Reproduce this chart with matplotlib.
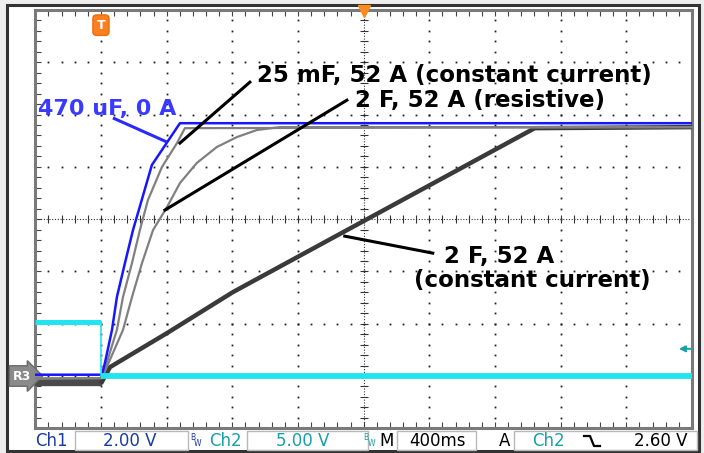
import numpy as np
import matplotlib
matplotlib.use("Agg")
import matplotlib.pyplot as plt
from matplotlib.patches import Rectangle
from matplotlib.lines import Line2D
from matplotlib.transforms import blended_transform_factory

# scope settings: 400 ms/div, Ch1 2 V/div, Ch2 5 V/div, trigger 1 div from left
t_min, t_div = -0.4, 0.4
ch1_min, ch1_div = -2.0, 2.0
ch2_min, ch2_div = -5.0, 5.0
trig_level = 2.6

# reference traces on Ch1 (time s, volts)
t_blue = [-0.4, 0.006, 0.024, 0.067, 0.097, 0.146, 0.195, 0.310, 0.481, 3.6]
v_blue = [0.05, 0.05, 0.50, 1.76, 3.02, 4.32, 5.58, 8.07, 9.67, 9.67]

t_25mf = [-0.4, 0.006, 0.097, 0.134, 0.189, 0.237, 0.286, 0.371, 0.463, 0.511, 3.6]
v_25mf = [-0.1, -0.08, 1.76, 3.02, 4.32, 5.58, 6.73, 7.99, 8.91, 9.48, 9.52]

t_res = [-0.4, 0.006, 0.134, 0.189, 0.250, 0.317, 0.402, 0.481, 0.584, 0.706, 0.828, 0.950, 1.090, 3.6]
v_res = [-0.1, -0.08, 1.76, 3.02, 4.32, 5.58, 6.46, 7.38, 8.15, 8.76, 9.14, 9.41, 9.52, 9.52]

t_cc = [-0.4, 0.006, 0.055, 0.402, 0.804, 1.498, 2.642, 3.6]
v_cc = [-0.22, -0.22, 0.34, 1.64, 3.21, 5.58, 9.48, 9.52]

# Ch2 enable signal
t_ch2 = [-0.4, 0.0, 0.0, 3.6]
v_ch2 = [5.16, 5.16, 0.0, 0.0]

W, H = 704, 453
def fx(x): return x / W
def fy(y): return 1 - y / H

fig = plt.figure(figsize=(W / 100, H / 100), dpi=100, facecolor='#eeeeee')
fig.patches.append(Rectangle((fx(7), fy(451)), fx(699) - fx(7), fy(5) - fy(451),
                             transform=fig.transFigure, fc='white', ec='#333333', lw=2.2, zorder=-5))

ax = fig.add_axes([fx(35.3), fy(428.3), fx(692) - fx(35.3), fy(10) - fy(428.3)])
ax.set_xlim(t_min, t_min + 10 * t_div)
ax.set_ylim(ch1_min, ch1_min + 8 * ch1_div)
for s in ax.spines.values():
    s.set_color('#7a7a7a')
    s.set_linewidth(2.2)

minor_x = np.linspace(t_min, t_min + 10 * t_div, 51)
minor_y = np.linspace(ch1_min, ch1_min + 8 * ch1_div, 41)
ax.set_xticks(minor_x)
ax.set_yticks(minor_y)
ax.tick_params(direction='in', length=4, width=0.8, color='#444444', top=True, right=True,
               labelbottom=False, labelleft=False)

# graticule
for k in range(1, 10):
    xv = t_min + k * t_div
    if k == 5:
        ax.axvline(xv, color='#333333', lw=0.8, ls=(0, (1, 1.5)))
        ax.plot(np.full(minor_y.size, xv), minor_y, ls='none', marker='_', ms=6, mew=0.8, color='#333333')
    else:
        ax.plot(np.full(minor_y.size, xv), minor_y, ls='none', marker='s', ms=1.3, mew=0, color='#222222')
for k in range(1, 8):
    yv = ch1_min + k * ch1_div
    if k == 4:
        ax.axhline(yv, color='#333333', lw=0.8, ls=(0, (1, 1.5)))
        ax.plot(minor_x, np.full(minor_x.size, yv), ls='none', marker='|', ms=6, mew=0.8, color='#333333')
    else:
        ax.plot(minor_x, np.full(minor_x.size, yv), ls='none', marker='s', ms=1.3, mew=0, color='#222222')

# traces
ax.plot(t_cc[:2], v_cc[:2], color='#4a4a4a', lw=6, solid_capstyle='butt', zorder=3)
ax.plot(t_cc[1:], v_cc[1:], color='#3a3a3a', lw=3.2, zorder=3)
ax.plot(t_res, v_res, color='#808080', lw=1.6, zorder=4)
ax.plot(t_25mf, v_25mf, color='#808080', lw=1.6, zorder=4)
ax.plot(t_blue, v_blue, color='#1616ff', lw=1.8, zorder=5)

# labels and leaders
bold = dict(family='DejaVu Sans', weight='bold', fontsize=16.5)
ax.text(-0.384, 9.98, '470 uF, 0 A', color='#3a3aff', ha='left', va='baseline',
        family='DejaVu Sans', weight='bold', fontsize=16)
ax.plot([0.073, 0.402], [9.87, 8.95], color='#2a2aff', lw=2.2, solid_capstyle='butt', zorder=6)
ax.text(0.950, 11.24, '25 mF, 52 A (constant current)', ha='left', va='baseline', **bold)
ax.plot([0.907, 0.481], [11.24, 8.91], color='black', lw=2.2, zorder=6)
ax.text(1.546, 10.29, '2 F, 52 A (resistive)', ha='left', va='baseline', **bold)
ax.plot([1.498, 0.390], [10.55, 6.35], color='black', lw=2.2, zorder=6)
ax.text(2.088, 4.32, '2 F, 52 A', ha='left', va='baseline', **bold)
ax.text(1.906, 3.40, '(constant current)', ha='left', va='baseline', **bold)
ax.plot([2.021, 1.485], [4.70, 5.35], color='black', lw=2.2, zorder=6)

# trigger markers
ax.text(0, 13.42, 'T', color='white', ha='center', va='center', fontsize=9, weight='bold',
        bbox=dict(boxstyle='round,pad=0.3', fc='#ff7f1f', ec='#e86c10'))
ax.plot([1.6], [13.95], marker='v', ms=9, color='#ff8a1a', clip_on=False, zorder=7)
ax.text(-0.006, 0, 'R3', transform=blended_transform_factory(ax.transAxes, ax.transData),
        ha='right', va='center', color='white', fontsize=9, weight='bold',
        bbox=dict(boxstyle='rarrow,pad=0.3', fc='#8a8a8a', ec='#6a6a6a'))

# Ch2 on its own scale
ax2 = ax.twinx()
ax2.set_ylim(ch2_min, ch2_min + 8 * ch2_div)
ax2.set_yticks([])
for s in ax2.spines.values():
    s.set_visible(False)
ax2.plot(t_ch2[1:3], v_ch2[1:3], color='#22e4f0', lw=1.2)
ax2.plot(t_ch2[:2], v_ch2[:2], color='#22e4f0', lw=3.6, solid_capstyle='butt')
ax2.plot(t_ch2[2:], v_ch2[2:], color='#22e4f0', lw=4.2, solid_capstyle='butt')
ax2.annotate('', xy=(0.980, trig_level), xytext=(0.9995, trig_level),
             xycoords=blended_transform_factory(ax2.transAxes, ax2.transData),
             arrowprops=dict(arrowstyle='-|>', color='#1aa0a8', lw=1.4, mutation_scale=9,
                             shrinkA=0, shrinkB=0))

# status bar
for x0, x1 in [(75, 188), (247, 368), (397, 476), (514, 697)]:
    fig.patches.append(Rectangle((fx(x0), fy(450)), fx(x1) - fx(x0), fy(431) - fy(450),
                                 transform=fig.transFigure, fc='none', ec='#b8b8b8', lw=1.0))
navy, teal = '#1c3c9c', '#18a0a8'
status = [('Ch1', 51.5, navy), ('2.00 V', 130, navy), ('Ch2', 225, teal), ('5.00 V', 303, teal),
          ('M', 387, 'black'), ('400ms', 437, 'black'), ('A', 505, 'black'),
          ('Ch2', 548, teal), ('2.60 V', 661, 'black')]
for txt, xc, col in status:
    fig.text(fx(xc), fy(445.5), txt, color=col, ha='center', va='baseline', fontsize=12,
             family='DejaVu Sans')
for xb, col in [(193, navy), (366, teal)]:
    fig.text(fx(xb), fy(440), 'B', color=col, fontsize=5.5, ha='center', va='baseline')
    fig.text(fx(xb + 5), fy(446), 'W', color=col, fontsize=5.5, ha='center', va='baseline')
fig.lines.append(Line2D([fx(584), fx(590), fx(594), fx(600)], [fy(436), fy(436), fy(446), fy(446)],
                        transform=fig.transFigure, color='black', lw=1.6))

fig.savefig('out.png', dpi=100, facecolor=fig.get_facecolor())
